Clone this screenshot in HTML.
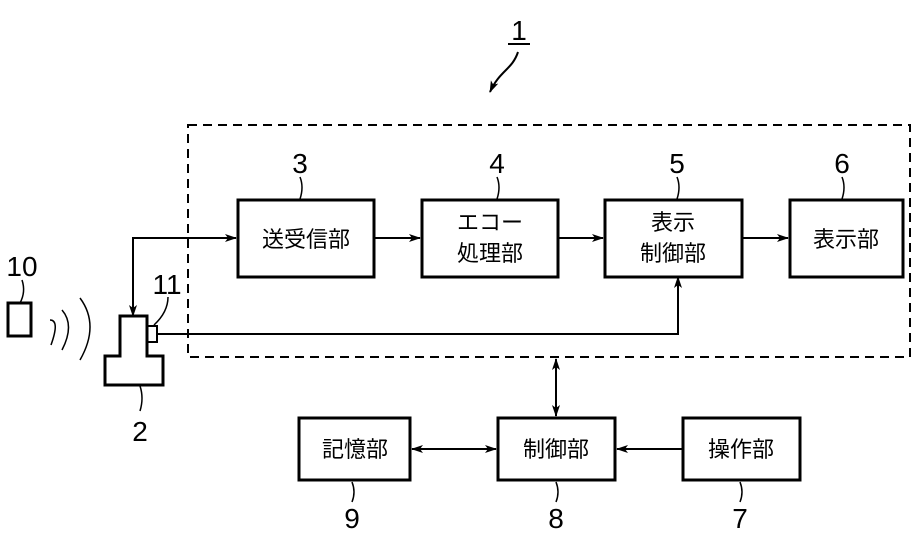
<!DOCTYPE html>
<html><head><meta charset="utf-8"><style>
html,body{margin:0;padding:0;background:#fff;}
svg text{font-family:"Liberation Sans","Noto Sans CJK JP",sans-serif;fill:#000;}
</style></head><body>
<svg width="917" height="537" viewBox="0 0 917 537" xmlns="http://www.w3.org/2000/svg">
<defs><marker id="a" markerWidth="12" markerHeight="8" refX="11" refY="4" orient="auto" markerUnits="userSpaceOnUse"><path d="M0,0 L12,4 L0,8 L3,4 Z" fill="#000"/></marker>
<marker id="s" markerWidth="12" markerHeight="8" refX="1" refY="4" orient="auto" markerUnits="userSpaceOnUse"><path d="M12,0 L0,4 L12,8 L9,4 Z" fill="#000"/></marker></defs>
<g fill="none" stroke="#000">
<rect x="188" y="125" width="722" height="232" stroke-width="2" stroke-dasharray="9,6"/>
<g stroke-width="3">
<rect x="238" y="200" width="136" height="77"/>
<rect x="422" y="200" width="136" height="77"/>
<rect x="605" y="200" width="137" height="77"/>
<rect x="790" y="200" width="113" height="77"/>
<rect x="299" y="418" width="111" height="62"/>
<rect x="498" y="418" width="117" height="62"/>
<rect x="683" y="418" width="117" height="62"/>
<path d="M120,356 V316 H147 V356 H163 V385 H105 V356 Z"/>
<rect x="8" y="303" width="23" height="33"/>
</g>
<rect x="147" y="326" width="10" height="16" stroke-width="2"/>
<g stroke-width="2">
<path d="M133,316 V238 H236" marker-start="url(#s)" marker-end="url(#a)"/>
<line x1="374" y1="238" x2="420" y2="238" marker-end="url(#a)"/>
<line x1="558" y1="238" x2="603" y2="238" marker-end="url(#a)"/>
<line x1="742" y1="238" x2="788" y2="238" marker-end="url(#a)"/>
<path d="M678,277 V334 H157" marker-start="url(#s)"/>
<line x1="556" y1="359" x2="556" y2="416" marker-start="url(#s)" marker-end="url(#a)"/>
<line x1="412" y1="449" x2="496" y2="449" marker-start="url(#s)" marker-end="url(#a)"/>
<line x1="683" y1="449" x2="617" y2="449" marker-end="url(#a)"/>
<path d="M508,44 H530"/>
<path d="M518,52 C512,70 500,70 490,92" marker-end="url(#a)"/>
</g>
<g stroke-width="1.5">
<path d="M50,320 Q60,320 51,345"/>
<path d="M62,310 Q75,325 62,350"/>
<path d="M80,298 Q100,325 80,360"/>
<path d="M300,177 q4,10 0,22"/><path d="M497,177 q4,10 0,22"/><path d="M677,177 q4,10 0,22"/><path d="M842,177 q4,10 0,22"/>
<path d="M22,280 q4,12 -2,23"/><path d="M168,297 q0,15 -14,28"/><path d="M140,386 q4,12 0,25"/>
<path d="M352,482 q4,10 0,20"/><path d="M556,482 q4,10 0,20"/><path d="M740,482 q4,10 0,20"/>
</g>
</g>
<g font-size="28" text-anchor="middle">
<text x="519" y="40">1</text>
<text x="300" y="173">3</text><text x="497" y="173">4</text><text x="677" y="173">5</text><text x="842" y="173">6</text>
<text x="22" y="276">10</text><text x="167" y="294">11</text><text x="140" y="441">2</text>
<text x="352" y="528">9</text><text x="556" y="528">8</text><text x="740" y="528">7</text>
</g>
<g font-size="22" text-anchor="middle">
<text x="306" y="247">送受信部</text>
<text x="490" y="230">エコー</text><text x="490" y="261">処理部</text>
<text x="673" y="230">表示</text><text x="673" y="261">制御部</text>
<text x="846" y="247">表示部</text>
<text x="355" y="457">記憶部</text><text x="556" y="457">制御部</text><text x="741" y="457">操作部</text>
</g>
</svg>
</body></html>
